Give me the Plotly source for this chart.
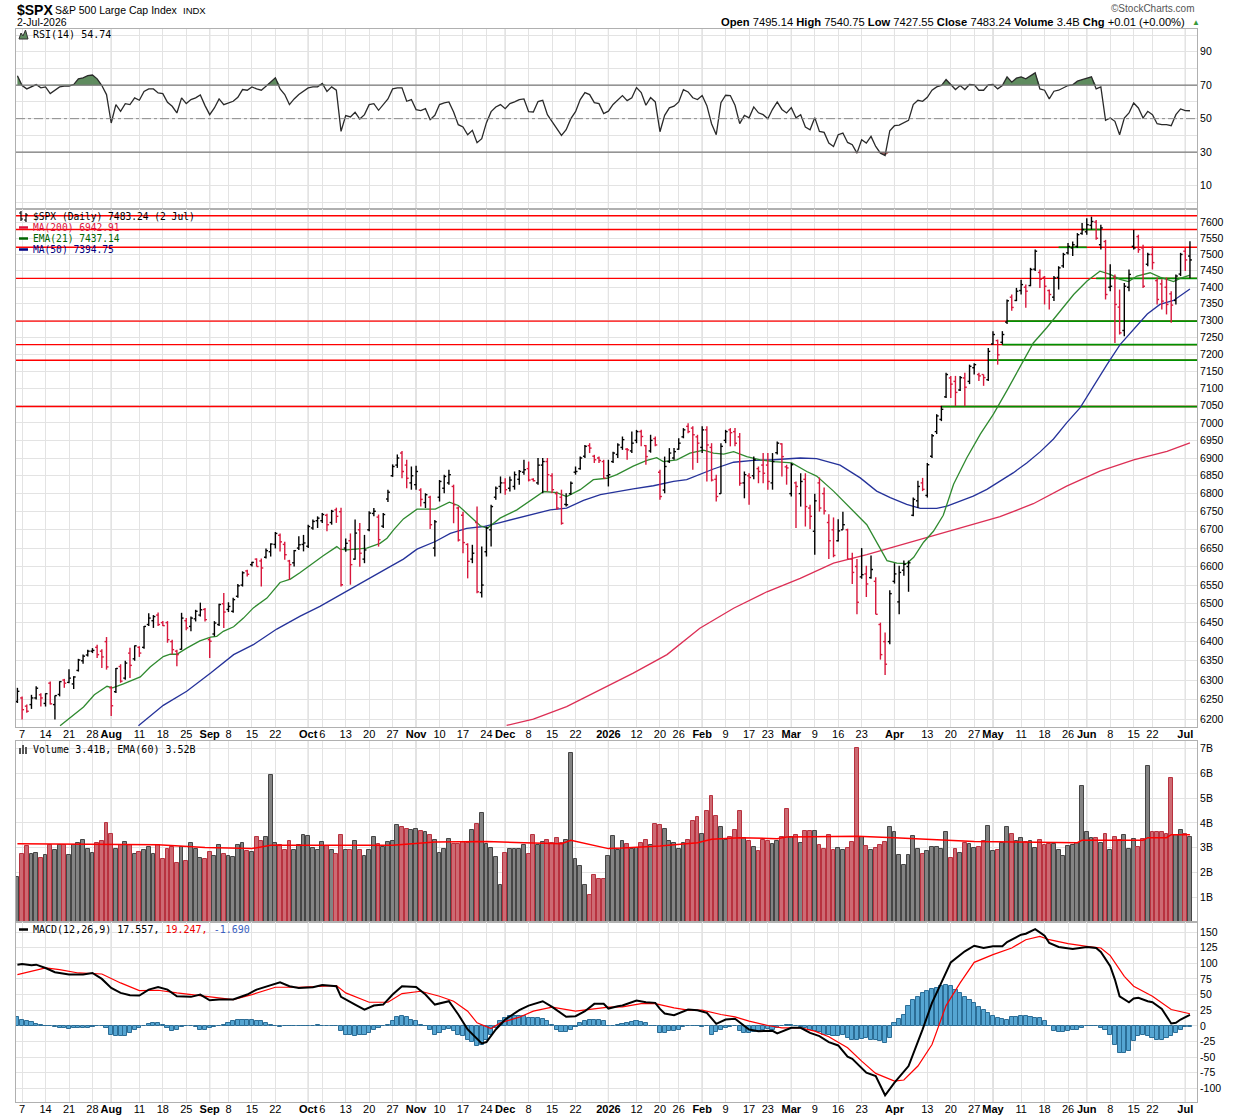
import numpy as np
import pandas as pd
import plotly.graph_objects as go

# ---------------- trading calendar ----------------
HOLIDAYS = ["2025-07-04", "2025-09-01", "2025-11-27", "2025-12-25", "2026-01-01",
            "2026-01-19", "2026-02-16", "2026-04-03", "2026-05-25", "2026-06-19"]
DAYS = pd.bdate_range("2025-07-03", "2026-07-02")
DAYS = DAYS[~DAYS.isin(pd.to_datetime(HOLIDAYS))]
DAY_POS = {d.strftime("%Y-%m-%d"): i for i, d in enumerate(DAYS)}

TICK_DATES = ["2025-07-07", "2025-07-14", "2025-07-21", "2025-07-28", "2025-08-01", "2025-08-11",
              "2025-08-18", "2025-08-25", "2025-09-02", "2025-09-08", "2025-09-15", "2025-09-22",
              "2025-10-01", "2025-10-06", "2025-10-13", "2025-10-20", "2025-10-27", "2025-11-03",
              "2025-11-10", "2025-11-17", "2025-11-24", "2025-12-01", "2025-12-08", "2025-12-15",
              "2025-12-22", "2026-01-02", "2026-01-12", "2026-01-20", "2026-01-26", "2026-02-02",
              "2026-02-09", "2026-02-17", "2026-02-23", "2026-03-02", "2026-03-09", "2026-03-16",
              "2026-03-23", "2026-04-01", "2026-04-13", "2026-04-20", "2026-04-27", "2026-05-01",
              "2026-05-11", "2026-05-18", "2026-05-26", "2026-06-01", "2026-06-08", "2026-06-15",
              "2026-06-22", "2026-07-01"]
TICK_TEXT = ["7", "14", "21", "28", "Aug", "11", "18", "25", "Sep", "8", "15", "22",
             "Oct", "6", "13", "20", "27", "Nov", "10", "17", "24", "Dec", "8", "15",
             "22", "2026", "12", "20", "26", "Feb", "9", "17", "23", "Mar", "9", "16",
             "23", "Apr", "13", "20", "27", "May", "11", "18", "26", "Jun", "8", "15",
             "22", "Jul"]
MONTH_LABELS = ["Aug", "Sep", "Oct", "Nov", "Dec", "2026", "Feb", "Mar", "Apr", "May", "Jun", "Jul"]

# ---------------- daily price bars ($SPX) ----------------
OPEN = [
    6245, 6254, 6233, 6237, 6254, 6262, 6240, 6292, 6237, 6263,
    6300, 6294, 6290, 6325, 6350, 6365, 6375, 6385, 6375, 6400,
    6280, 6270, 6335, 6305, 6370, 6355, 6385, 6385, 6445, 6455,
    6470, 6450, 6450, 6400, 6375, 6380, 6455, 6440, 6460, 6470,
    6485, 6405, 6420, 6445, 6500, 6485, 6480, 6520, 6550, 6588,
    6605, 6620, 6615, 6625, 6640, 6660, 6685, 6660, 6615, 6610,
    6650, 6660, 6655, 6705, 6725, 6725, 6740, 6720, 6755, 6750,
    6650, 6670, 6620, 6700, 6620, 6700, 6745, 6735, 6710, 6785,
    6850, 6880, 6914, 6880, 6830, 6825, 6810, 6775, 6790, 6650,
    6790, 6815, 6830, 6820, 6760, 6740, 6660, 6620, 6720, 6530,
    6640, 6700, 6790, 6820, 6830, 6815, 6820, 6840, 6860, 6870,
    6840, 6830, 6880, 6890, 6850, 6800, 6790, 6770, 6800, 6860,
    6870, 6905, 6935, 6905, 6900, 6890, 6850, 6890, 6910, 6930,
    6925, 6920, 6950, 6975, 6935, 6920, 6955, 6860, 6810, 6890,
    6900, 6925, 6960, 6990, 6985, 6960, 6930, 6980, 6930, 6840,
    6800, 6950, 6980, 6975, 6960, 6830, 6850, 6850, 6870, 6880,
    6880, 6830, 6915, 6940, 6875, 6800, 6830, 6800, 6840, 6760,
    6696, 6830, 6800, 6720, 6700, 6670, 6700, 6700, 6620, 6600,
    6572, 6580, 6570, 6560, 6445, 6400, 6400, 6560, 6505, 6590,
    6600, 6740, 6780, 6830, 6795, 6905, 6975, 7010, 7075, 7130,
    7120, 7095, 7130, 7120, 7160, 7140, 7140, 7125, 7230, 7240,
    7235, 7295, 7370, 7360, 7390, 7400, 7405, 7455, 7445, 7430,
    7390, 7370, 7430, 7465, 7505, 7520, 7525, 7565, 7570, 7590,
    7600, 7530, 7540, 7400, 7430, 7340, 7270, 7400, 7525, 7555,
    7520, 7470, 7500, 7420, 7410, 7400, 7380, 7360, 7440, 7510,
    7495.14]
HIGH = [
    6280, 6258, 6237, 6262, 6284, 6266, 6266, 6296, 6260, 6297,
    6303, 6328, 6310, 6355, 6366, 6379, 6383, 6392, 6380, 6412,
    6284, 6331, 6341, 6350, 6384, 6390, 6388, 6441, 6475, 6470,
    6477, 6454, 6454, 6405, 6379, 6476, 6462, 6466, 6484, 6503,
    6489, 6410, 6454, 6500, 6529, 6504, 6516, 6553, 6587, 6591,
    6613, 6622, 6622, 6649, 6663, 6694, 6690, 6667, 6618, 6645,
    6682, 6686, 6714, 6728, 6737, 6746, 6744, 6755, 6761, 6761,
    6676, 6690, 6728, 6719, 6686, 6751, 6760, 6742, 6746, 6811,
    6882, 6910, 6920, 6895, 6876, 6878, 6815, 6801, 6794, 6727,
    6838, 6853, 6867, 6825, 6764, 6750, 6663, 6659, 6764, 6654,
    6709, 6769, 6820, 6848, 6843, 6848, 6862, 6866, 6895, 6890,
    6843, 6900, 6900, 6900, 6857, 6806, 6811, 6801, 6834, 6876,
    6904, 6937, 6942, 6909, 6904, 6895, 6895, 6918, 6942, 6961,
    6928, 6975, 6980, 6980, 6937, 6966, 6961, 6867, 6904, 6928,
    6928, 6956, 6985, 6999, 6990, 6966, 6990, 6990, 6942, 6853,
    6942, 6980, 6985, 6985, 6971, 6862, 6857, 6904, 6876, 6914,
    6914, 6914, 6947, 6942, 6881, 6886, 6834, 6857, 6857, 6769,
    6800, 6845, 6817, 6743, 6734, 6729, 6750, 6703, 6637, 6620,
    6650, 6602, 6630, 6571, 6450, 6424, 6536, 6609, 6602, 6616,
    6616, 6789, 6836, 6844, 6886, 6968, 7025, 7049, 7145, 7136,
    7136, 7136, 7145, 7169, 7173, 7145, 7140, 7218, 7268, 7243,
    7268, 7363, 7378, 7398, 7423, 7408, 7459, 7515, 7454, 7434,
    7393, 7434, 7464, 7505, 7535, 7540, 7566, 7597, 7612, 7617,
    7607, 7592, 7545, 7470, 7439, 7393, 7413, 7454, 7576, 7561,
    7530, 7505, 7525, 7429, 7424, 7429, 7388, 7439, 7505, 7520,
    7540.75]
LOW = [
    6241, 6199, 6216, 6226, 6250, 6232, 6232, 6237, 6199, 6258,
    6280, 6292, 6277, 6322, 6342, 6361, 6370, 6357, 6331, 6327,
    6208, 6267, 6293, 6301, 6305, 6350, 6360, 6381, 6441, 6436,
    6441, 6441, 6397, 6366, 6336, 6379, 6430, 6427, 6453, 6466,
    6453, 6357, 6414, 6441, 6436, 6478, 6476, 6516, 6546, 6573,
    6600, 6600, 6546, 6622, 6627, 6649, 6641, 6618, 6564, 6600,
    6645, 6641, 6650, 6700, 6705, 6719, 6696, 6714, 6719, 6546,
    6640, 6551, 6618, 6599, 6609, 6696, 6737, 6654, 6705, 6777,
    6847, 6872, 6843, 6815, 6811, 6811, 6764, 6760, 6702, 6627,
    6778, 6801, 6825, 6718, 6668, 6636, 6568, 6609, 6528, 6517,
    6627, 6654, 6783, 6801, 6797, 6806, 6811, 6825, 6853, 6834,
    6834, 6825, 6801, 6806, 6801, 6755, 6714, 6764, 6797, 6853,
    6867, 6900, 6914, 6886, 6886, 6843, 6820, 6886, 6900, 6923,
    6895, 6914, 6942, 6933, 6881, 6915, 6933, 6783, 6801, 6886,
    6895, 6923, 6956, 6970, 6867, 6886, 6914, 6834, 6834, 6778,
    6800, 6942, 6933, 6933, 6822, 6787, 6769, 6840, 6829, 6829,
    6811, 6811, 6910, 6848, 6825, 6792, 6705, 6764, 6709, 6702,
    6632, 6750, 6742, 6620, 6625, 6668, 6700, 6620, 6553, 6472,
    6567, 6518, 6567, 6472, 6353, 6313, 6393, 6554, 6472, 6575,
    6532, 6737, 6760, 6807, 6789, 6900, 6968, 7005, 7072, 7072,
    7048, 7092, 7048, 7112, 7140, 7121, 7107, 7121, 7228, 7169,
    7228, 7289, 7329, 7358, 7378, 7338, 7403, 7449, 7398, 7348,
    7333, 7358, 7393, 7459, 7500, 7495, 7520, 7561, 7561, 7577,
    7545, 7515, 7363, 7388, 7233, 7258, 7253, 7388, 7515, 7505,
    7398, 7464, 7454, 7348, 7333, 7318, 7293, 7348, 7434, 7449,
    7427.55]
CLOSE = [
    6271, 6224, 6220, 6254, 6279, 6254, 6265, 6239, 6260, 6296,
    6292, 6305, 6308, 6352, 6362, 6375, 6377, 6366, 6360, 6334,
    6234, 6330, 6297, 6344, 6338, 6389, 6370, 6440, 6462, 6466,
    6445, 6442, 6405, 6379, 6366, 6462, 6436, 6462, 6480, 6484,
    6458, 6401, 6449, 6498, 6478, 6493, 6511, 6548, 6583, 6579,
    6611, 6600, 6596, 6643, 6661, 6690, 6667, 6632, 6605, 6643,
    6659, 6664, 6709, 6723, 6732, 6742, 6714, 6751, 6737, 6551,
    6663, 6605, 6691, 6636, 6645, 6746, 6751, 6673, 6742, 6804,
    6876, 6900, 6862, 6843, 6850, 6862, 6784, 6797, 6714, 6722,
    6834, 6848, 6853, 6769, 6672, 6665, 6614, 6636, 6532, 6550,
    6705, 6764, 6815, 6830, 6811, 6838, 6853, 6862, 6867, 6838,
    6836, 6880, 6890, 6853, 6811, 6760, 6718, 6769, 6829, 6862,
    6900, 6933, 6928, 6895, 6893, 6843, 6853, 6914, 6937, 6952,
    6923, 6942, 6975, 6961, 6904, 6950, 6937, 6792, 6876, 6914,
    6918, 6942, 6980, 6975, 6966, 6942, 6980, 6937, 6838, 6792,
    6933, 6975, 6972, 6942, 6829, 6853, 6845, 6895, 6862, 6857,
    6834, 6890, 6942, 6904, 6872, 6881, 6820, 6834, 6764, 6737,
    6780, 6760, 6752, 6670, 6630, 6697, 6714, 6620, 6584, 6504,
    6578, 6553, 6592, 6472, 6366, 6341, 6527, 6580, 6584, 6606,
    6610, 6784, 6820, 6812, 6881, 6963, 7020, 7039, 7140, 7112,
    7088, 7131, 7103, 7164, 7169, 7136, 7131, 7208, 7258, 7198,
    7258, 7359, 7339, 7388, 7408, 7388, 7454, 7510, 7424, 7403,
    7378, 7428, 7459, 7500, 7525, 7530, 7561, 7577, 7592, 7602,
    7550, 7582, 7378, 7403, 7348, 7263, 7403, 7439, 7520, 7515,
    7403, 7500, 7475, 7363, 7358, 7348, 7346, 7434, 7500, 7483.23,
    7483.24]

# ---------------- volume (billions) ----------------
VOLUME_B = [
    1.81, 2.76, 3.07, 2.76, 2.80, 2.59, 2.69, 3.09, 2.92, 3.12,
    3.09, 2.69, 3.12, 3.20, 3.32, 2.96, 2.80, 3.20, 3.28, 4.01,
    3.56, 2.96, 3.09, 3.23, 3.09, 2.76, 2.82, 2.89, 3.03, 2.76,
    3.12, 2.55, 2.93, 3.03, 2.39, 3.01, 2.47, 3.20, 2.93, 2.58,
    2.53, 2.82, 2.66, 3.12, 2.76, 2.66, 2.62, 3.12, 3.20, 2.88,
    2.82, 3.43, 3.28, 3.43, 5.92, 3.20, 3.09, 2.89, 3.28, 2.89,
    3.12, 3.50, 3.47, 3.00, 2.89, 3.23, 3.05, 2.89, 2.73, 3.50,
    2.89, 2.92, 3.28, 2.92, 2.66, 2.92, 3.43, 3.16, 3.03, 3.23,
    3.25, 3.93, 3.83, 3.74, 3.73, 3.77, 3.66, 3.63, 3.52, 3.30,
    2.80, 2.93, 3.36, 3.13, 3.16, 3.23, 3.19, 3.70, 3.97, 4.41,
    3.16, 3.00, 2.62, 1.48, 2.80, 2.96, 2.96, 2.96, 3.12, 2.76,
    3.50, 3.12, 3.23, 3.30, 3.19, 3.40, 3.20, 3.30, 6.80, 2.55,
    2.24, 1.48, 1.07, 1.91, 1.72, 1.72, 2.66, 3.46, 2.89, 3.25,
    3.16, 2.93, 2.98, 3.20, 3.32, 3.12, 3.97, 3.90, 3.77, 3.28,
    3.20, 2.96, 3.20, 3.32, 4.09, 4.25, 3.56, 4.49, 5.10, 4.29,
    3.85, 3.32, 3.44, 3.73, 4.49, 3.37, 3.28, 3.04, 2.87, 3.32,
    3.25, 3.16, 3.28, 3.44, 4.57, 3.44, 3.50, 3.20, 3.69, 3.69,
    3.69, 3.12, 2.96, 3.50, 2.92, 3.00, 2.92, 3.00, 3.24, 7.00,
    3.43, 3.08, 2.92, 3.00, 3.12, 3.24, 3.85, 3.65, 2.72, 2.31,
    2.72, 3.48, 2.96, 2.76, 2.87, 3.04, 3.04, 2.96, 3.61, 2.59,
    2.96, 2.80, 3.20, 3.16, 3.00, 3.04, 3.28, 3.89, 2.87, 2.92,
    3.20, 3.85, 3.56, 3.28, 3.40, 3.23, 3.28, 3.00, 3.32, 3.12,
    3.16, 3.16, 2.92, 2.67, 3.08, 3.12, 3.20, 5.47, 3.65, 3.40,
    3.40, 3.20, 3.56, 2.92, 3.44, 3.32, 3.52, 2.96, 3.36, 3.01,
    3.36, 6.31, 3.65, 3.61, 3.61, 3.56, 5.79, 3.52, 3.73, 3.56,
    3.41]
VOL_EMA_DAY = [0, 30, 40, 50, 54, 80, 89, 100, 108, 116, 118, 126, 129, 137, 145, 148, 154,
               162, 164, 179, 187, 196, 204, 213, 221, 226, 227, 240, 241, 245, 246, 250]
VOL_EMA_VAL = [3.16, 3.12, 3.00, 2.96, 3.10, 3.10, 3.23, 3.25, 3.20, 3.16, 3.30, 2.96, 2.98,
               3.07, 3.20, 3.34, 3.40, 3.36, 3.43, 3.46, 3.40, 3.32, 3.25, 3.23, 3.23, 3.20,
               3.30, 3.30, 3.40, 3.40, 3.52, 3.52]

# ---------------- RSI(14) ----------------
RSI14 = [
    75.7, 69.8, 67.8, 69.0, 70.4, 68.4, 69.0, 65.0, 67.0, 69.0,
    69.4, 69.4, 70.4, 73.8, 74.4, 75.7, 76.1, 73.8, 69.8, 64.4,
    47.4, 58.4, 54.4, 59.0, 58.4, 62.4, 61.0, 66.3, 67.8, 67.8,
    65.4, 65.0, 59.8, 57.4, 53.4, 62.4, 59.0, 61.4, 62.4, 64.2,
    57.8, 52.4, 56.4, 61.8, 58.4, 59.4, 60.4, 62.8, 67.4, 67.0,
    69.0, 67.8, 67.0, 69.4, 71.7, 74.4, 67.8, 64.4, 58.4, 61.8,
    64.4, 66.3, 68.4, 69.0, 69.0, 71.0, 66.3, 69.0, 67.0, 42.4,
    51.8, 51.0, 53.8, 49.8, 52.4, 58.4, 59.0, 55.0, 58.4, 61.8,
    67.8, 68.4, 68.4, 60.4, 61.4, 55.4, 54.8, 56.0, 49.4, 52.0,
    58.4, 59.5, 60.0, 54.0, 46.4, 45.0, 40.4, 43.0, 35.6, 38.0,
    47.6, 54.2, 57.0, 58.4, 56.0, 59.0, 60.0, 61.4, 61.8, 54.2,
    54.0, 60.2, 61.0, 52.4, 48.2, 44.0, 40.0, 43.4, 50.0, 54.2,
    61.4, 65.6, 64.4, 59.6, 59.0, 53.0, 54.5, 58.5, 61.4, 63.8,
    60.8, 62.5, 68.6, 65.6, 58.0, 62.6, 60.0, 42.2, 52.0, 56.5,
    57.5, 60.0, 67.4, 66.0, 62.5, 61.4, 63.8, 57.8, 47.0, 40.4,
    59.6, 64.0, 63.8, 58.0, 47.0, 52.0, 50.5, 57.0, 53.5, 52.4,
    50.0, 55.6, 60.0, 55.5, 53.4, 56.6, 50.5, 52.4, 45.0, 43.4,
    50.6, 42.4, 41.8, 35.4, 33.4, 40.4, 41.4, 35.8, 34.4, 29.4,
    37.4, 35.4, 39.4, 33.4, 29.4, 28.0, 42.8, 45.8, 46.2, 47.8,
    49.0, 58.4, 61.0, 60.4, 62.8, 67.0, 69.0, 69.8, 73.4, 70.4,
    67.4, 69.8, 67.4, 70.4, 70.2, 67.0, 67.0, 70.2, 70.4, 67.8,
    69.8, 75.0, 71.8, 74.2, 75.0, 73.8, 75.4, 77.4, 67.8, 67.0,
    61.8, 66.4, 67.0, 68.4, 69.8, 70.2, 72.4, 73.4, 74.2, 75.0,
    67.8, 69.0, 49.0, 50.4, 48.4, 40.4, 50.4, 53.4, 59.4, 56.4,
    50.4, 54.4, 52.4, 47.0, 46.4, 46.4, 45.8, 52.4, 55.8, 54.8,
    54.74]

# ---------------- MACD(12,26,9) ----------------
MACD_HIST = [
    14.4, 10, 7.4, 5.8, 3.7, 2, 0, -0.5, -2, -3,
    -4, -5, -4, -3, -3, -3, -2, 0, -1, -3,
    -14, -16, -17, -16, -11, -6, -3, 0, 3, 5,
    4, 2, -3, -8, -6, -2, -1, 0, -2, -6,
    -7, -3, -2, 0, 2, 5, 7, 10, 10, 9,
    10, 8, 7, 5, 2, 0, -2, 0, -1, 0,
    -1, 0, -0.5, 0, 1, 0.5, -0.5, 0, -1, -8,
    -14, -15, -16, -15, -14, -11, -6, -3, 0, 2,
    7, 14, 16, 14, 10, 7, 2, 0, -6, -14,
    -11, -6, -5, -8, -14, -17, -22, -26, -32, -31,
    -23, -14, -3, 7, 13, 15, 16, 16, 15, 13,
    13, 13, 11, 7, 2, -6, -10, -10, -7, -2,
    4, 7, 9, 10, 9, 7, 0, 0, 2, 3,
    5, 6, 7, 6, 5, 0, 0, -11, -11, -9,
    -8, -6, -2, 0, 0, 0, -2, 0, -14, -10,
    -6, -3, -2, 0, -8, -12, -12, -10, -8, -7,
    -5, -6, -3, 0, 2, 2, 0, -2, -3, -6,
    -8, -10, -14, -15, -17, -16, -15, -19, -22, -23,
    -21, -19, -22, -23, -24, -28, -19, 5, 11, 18,
    32, 41, 46, 52, 55, 59, 61, 64, 65, 64,
    58, 52, 46, 42, 37, 30, 25, 21, 16, 12,
    11, 10, 14, 14, 15, 15, 14, 13, 13, 7,
    0, -8, -10, -10, -9, -7, -6, -3, 0, 0,
    0, -3, -6, -14, -30, -43, -44, -40, -25, -17,
    -14, -17, -19, -22, -23, -20, -17, -11, -6, -2,
    -1.69]
MACD_DAY = [0, 1, 3, 4, 6, 8, 11, 14, 16, 18, 20, 22, 24, 26, 28, 30, 32, 34, 37, 39, 41, 43,
            46, 49, 51, 54, 56, 58, 60, 63, 65, 68, 69, 72, 74, 76, 78, 80, 82, 85, 87, 89, 92,
            94, 96, 99, 100, 102, 104, 107, 109, 112, 114, 117, 119, 121, 123, 125, 126, 128,
            129, 132, 134, 136, 137, 138, 140, 143, 145, 147, 149, 151, 153, 156, 158, 161, 162,
            165, 167, 169, 171, 173, 175, 177, 178, 181, 183, 185, 187, 190, 193, 195, 199, 202,
            204, 206, 208, 210, 211, 214, 215, 217, 219, 220, 222, 225, 228, 230, 231, 233, 234,
            235, 237, 238, 239, 241, 242, 244, 245, 246, 247, 248, 250]
MACD_VAL = [97.8, 98.9, 96.8, 97.8, 92.5, 85.6, 81.9, 81.9, 84.5, 75.0, 60.6, 52.6, 48.9, 48.4,
            57.9, 62.2, 57.9, 47.3, 46.3, 50.0, 40.9, 42.0, 42.0, 50.0, 57.9, 64.3, 69.6, 63.3,
            60.6, 61.7, 65.4, 63.3, 46.3, 34.0, 26.0, 32.4, 34.0, 50.0, 63.3, 62.2, 50.0, 34.0,
            39.3, 18.1, -5.8, -28.2, -26.0, -5.8, 10.1, 25.0, 32.4, 39.3, 30.3, 14.4, 15.4, 23.4,
            35.1, 35.1, 27.6, 31.4, 32.4, 40.4, 37.7, 36.7, 27.1, 19.7, 17.0, 26.0, 25.0, 20.7,
            3.2, 10.1, 11.2, -5.8, -8.5, -8.0, -12.2, -3.2, -3.2, -11.2, -16.5, -26.0, -31.4,
            -49.4, -52.6, -75.0, -80.3, -111.1, -90.9, -64.3, -5.8, 36.7, 101.5, 119.1, 128.1,
            124.4, 127.1, 127.1, 134.0, 145.7, 147.3, 154.7, 144.1, 132.4, 126.0, 122.8, 126.0,
            124.4, 118.0, 95.2, 73.9, 47.3, 37.7, 43.6, 44.7, 39.3, 37.7, 27.1, 15.4, 3.7, 4.8,
            10.1, 17.557]
SIGNAL_DAY = [0, 3, 6, 9, 13, 18, 22, 26, 30, 34, 38, 43, 46, 50, 55, 60, 64, 68, 70, 75, 79,
              82, 86, 90, 93, 96, 98, 101, 103, 107, 110, 114, 119, 123, 126, 129, 133, 136, 140,
              143, 146, 150, 153, 156, 160, 163, 167, 170, 173, 177, 180, 183, 187, 189, 192, 195,
              198, 201, 204, 208, 212, 215, 218, 220, 224, 228, 231, 233, 236, 238, 242, 246, 250]
SIGNAL_VAL = [81.9, 87.2, 92.5, 89.8, 84.5, 82.9, 68.6, 56.4, 56.9, 52.6, 48.9, 44.7, 42.0, 50.0,
              61.7, 61.7, 63.3, 64.3, 52.6, 37.7, 37.7, 51.6, 55.3, 47.3, 39.3, 23.4, 4.8, -4.3,
              4.8, 13.8, 23.4, 29.8, 23.4, 27.1, 29.8, 30.3, 35.6, 35.6, 28.7, 25.0, 25.0, 18.1,
              14.4, 7.4, 0.5, -3.2, -3.2, -8.5, -17.5, -35.1, -56.4, -76.0, -88.3, -86.7, -64.3,
              -29.8, 32.4, 68.6, 101.5, 113.8, 124.4, 137.7, 143.0, 137.7, 131.3, 127.1, 124.4,
              112.2, 79.2, 63.3, 47.3, 26.0, 19.247]

# ---------------- moving averages ----------------
EMA21_DAY = [9.1, 11.2, 14.1, 16.4, 19.1, 20.3, 22.6, 26.2, 28.3, 31.1, 32.6, 34.0, 36.1, 38.9,
             41.2, 42.5, 43.9, 46.1, 48.2, 50.3, 53.2, 56.0, 58.2, 60.3, 62.4, 65.2, 68.1, 68.8,
             70.2, 73.1, 74.5, 77.3, 78.8, 80.2, 82.3, 85.2, 89.1, 92.1, 94.0, 96.2, 98.7, 100.2,
             102.9, 106.5, 110.0, 112.2, 115.0, 117.1, 120.0, 122.8, 125.7, 127.8, 131.3, 134.2,
             136.3, 137.7, 140.6, 143.4, 146.3, 148.4, 150.6, 152.7, 155.5, 158.4, 161.2, 165.1,
             168.3, 170.4, 174.0, 177.5, 181.1, 184.0, 185.4, 187.5, 189.6, 191.1, 193.2, 195.3,
             197.4, 199.6, 202.4, 205.3, 208.1, 211.0, 213.8, 216.6, 219.5, 222.3, 225.2, 228.0,
             230.8, 233.0, 235.1, 236.9, 238.7, 241.5, 243.6, 246.5, 247.9, 250.0]
EMA21_VAL = [6183, 6203, 6231, 6262, 6284, 6280, 6290, 6308, 6334, 6361, 6367, 6367, 6383, 6402,
             6412, 6414, 6427, 6439, 6462, 6489, 6515, 6557, 6566, 6584, 6604, 6629, 6654, 6647,
             6645, 6647, 6650, 6663, 6677, 6700, 6730, 6757, 6757, 6776, 6767, 6741, 6711, 6704,
             6732, 6755, 6786, 6806, 6803, 6792, 6811, 6839, 6843, 6853, 6877, 6893, 6901, 6890,
             6895, 6914, 6922, 6914, 6911, 6918, 6904, 6895, 6890, 6886, 6862, 6849, 6807, 6760,
             6714, 6648, 6616, 6609, 6608, 6625, 6666, 6696, 6740, 6826, 6900, 6968, 7025, 7094,
             7164, 7233, 7279, 7329, 7378, 7418, 7449, 7439, 7424, 7417, 7434, 7444, 7431, 7417,
             7427, 7437.14]
MA50_DAY = [25.8, 31.1, 36.1, 41.2, 46.1, 50.3, 55.3, 60.3, 64.5, 68.8, 74.5, 78.8, 82.3, 85.2,
            89.1, 92.3, 95.8, 99.4, 102.9, 106.5, 110.0, 113.6, 117.1, 120.7, 124.3, 127.8, 131.3,
            135.6, 139.9, 142.7, 145.5, 148.4, 152.7, 156.9, 161.2, 166.9, 170.4, 175.4, 179.7,
            183.2, 186.1, 189.6, 192.5, 196.0, 198.2, 201.0, 203.8, 206.7, 209.5, 212.3, 215.2,
            218.1, 220.9, 223.7, 226.6, 229.4, 232.3, 235.1, 238.0, 240.9, 243.6, 246.5, 250.0]
MA50_VAL = [6183, 6235, 6271, 6318, 6366, 6392, 6433, 6467, 6493, 6524, 6564, 6595, 6620, 6647,
            6668, 6690, 6704, 6709, 6720, 6732, 6744, 6755, 6760, 6781, 6797, 6806, 6813, 6822,
            6834, 6839, 6853, 6869, 6888, 6893, 6895, 6900, 6898, 6880, 6844, 6807, 6789, 6770,
            6759, 6759, 6765, 6779, 6793, 6812, 6835, 6858, 6886, 6918, 6954, 7000, 7044, 7106,
            7169, 7228, 7274, 7319, 7348, 7360, 7394.75]
MA200_DAY = [104.3, 110.0, 117.1, 124.3, 131.3, 138.5, 145.5, 152.7, 159.8, 166.9, 174.0, 181.1,
             188.2, 195.3, 202.4, 209.5, 216.6, 223.7, 230.8, 238.0, 245.1, 250.0]
MA200_VAL = [6184, 6200, 6232, 6275, 6318, 6366, 6435, 6488, 6532, 6568, 6609, 6632, 6658, 6682,
             6710, 6736, 6772, 6821, 6863, 6895, 6919, 6942.91]

# ---------------- user-drawn level lines ----------------
RED_LEVELS = [7620, 7577, 7522, 7427, 7298, 7228, 7182, 7047]
GREEN_LEVELS = [7577, 7522, 7427, 7298, 7228, 7182, 7047]
GREEN_FROM = ["2026-05-29", "2026-05-21", "2026-06-03", "2026-05-06", "2026-05-05",
              "2026-04-30", "2026-04-16"]
GREEN_TO = ["2026-06-04", "2026-06-01", None, None, None, None, None]

# ---------------- styling / geometry ----------------
W, H = 1240, 1119
PL, PR, PT, PB = 16, 1197, 29, 1102
PW, PH = PR - PL, PB - PT
XR = [-0.3, 251.5]
GRID = "#e3e3e3"
MONTH_GRID = "#bdbdbd"
BORDER = "#b0b0b0"
UP_C = "#000000"
DN_C = "#d8173c"
FONT = "Liberation Sans, Arial, sans-serif"
MONO = "DejaVu Sans Mono, monospace"


def dom(top, bottom):
    return [(PB - bottom) / PH, (PB - top) / PH]


def P(x, y):
    return (x - PL) / PW, (PB - y) / PH


n = len(DAYS)
idx = np.arange(n)
op, hi, lo, cl = (np.array(a, float) for a in (OPEN, HIGH, LOW, CLOSE))
prev = np.concatenate([[op[0]], cl[:-1]])
is_up = cl >= prev

fig = go.Figure()

# ---- RSI panel ----
rsi = np.array(RSI14, float)
fig.add_trace(go.Scatter(x=idx, y=np.full(n, 70.0), mode="lines", line=dict(width=0),
                         xaxis="x", yaxis="y", hoverinfo="skip"))
fig.add_trace(go.Scatter(x=idx, y=np.maximum(rsi, 70), mode="lines", line=dict(width=0),
                         fill="tonexty", fillcolor="#5f8c5f", xaxis="x", yaxis="y", hoverinfo="skip"))
fig.add_trace(go.Scatter(x=idx, y=np.full(n, 30.0), mode="lines", line=dict(width=0),
                         xaxis="x", yaxis="y", hoverinfo="skip"))
fig.add_trace(go.Scatter(x=idx, y=np.minimum(rsi, 30), mode="lines", line=dict(width=0),
                         fill="tonexty", fillcolor="#a3605f", xaxis="x", yaxis="y", hoverinfo="skip"))
fig.add_trace(go.Scatter(x=idx, y=rsi, mode="lines", line=dict(color="#2a2a2a", width=1.3),
                         xaxis="x", yaxis="y", hoverinfo="skip"))

# ---- price panel: level lines ----
for lv in RED_LEVELS:
    fig.add_trace(go.Scatter(x=XR, y=[lv, lv], mode="lines", line=dict(color="#ff0000", width=1.4),
                             xaxis="x2", yaxis="y2", hoverinfo="skip"))
for lv, d0, d1 in zip(GREEN_LEVELS, GREEN_FROM, GREEN_TO):
    x0 = DAY_POS[d0]
    x1 = DAY_POS[d1] if d1 else XR[1]
    fig.add_trace(go.Scatter(x=[x0, x1], y=[lv, lv], mode="lines", line=dict(color="#009000", width=1.7),
                             xaxis="x2", yaxis="y2", hoverinfo="skip"))

# moving averages
fig.add_trace(go.Scatter(x=MA200_DAY, y=MA200_VAL, mode="lines", line=dict(color="#dc2f55", width=1.3),
                         xaxis="x2", yaxis="y2", hoverinfo="skip"))
fig.add_trace(go.Scatter(x=MA50_DAY, y=MA50_VAL, mode="lines", line=dict(color="#25329a", width=1.3),
                         xaxis="x2", yaxis="y2", hoverinfo="skip"))
fig.add_trace(go.Scatter(x=EMA21_DAY, y=EMA21_VAL, mode="lines", line=dict(color="#2f8a2f", width=1.3),
                         xaxis="x2", yaxis="y2", hoverinfo="skip"))

# OHLC bars (colour by close vs previous close)
TW = 0.42


def bar_path(mask):
    xs, ys = [], []
    for i in idx[mask]:
        xs += [i, i, None, i - TW, i, None, i, i + TW, None]
        ys += [lo[i], hi[i], None, op[i], op[i], None, cl[i], cl[i], None]
    return xs, ys


for mask, col in ((is_up, UP_C), (~is_up, DN_C)):
    xs, ys = bar_path(mask)
    fig.add_trace(go.Scatter(x=xs, y=ys, mode="lines", line=dict(color=col, width=1.4),
                             xaxis="x2", yaxis="y2", hoverinfo="skip", connectgaps=False))

# ---- volume panel ----
vol_fill = np.where(is_up, "#838383", "#cd6a73")
vol_line = np.where(is_up, "#454545", "#b8323f")
fig.add_trace(go.Bar(x=idx, y=VOLUME_B, width=0.82,
                     marker=dict(color=list(vol_fill), line=dict(color=list(vol_line), width=1)),
                     xaxis="x3", yaxis="y3", hoverinfo="skip"))
fig.add_trace(go.Scatter(x=VOL_EMA_DAY, y=VOL_EMA_VAL, mode="lines", line=dict(color="#ff0000", width=1.5),
                         xaxis="x3", yaxis="y3", hoverinfo="skip"))

# ---- MACD panel ----
fig.add_trace(go.Bar(x=idx, y=MACD_HIST, width=0.88,
                     marker=dict(color="#55a5d2", line=dict(color="#2b6d96", width=1)),
                     xaxis="x4", yaxis="y4", hoverinfo="skip"))
fig.add_trace(go.Scatter(x=SIGNAL_DAY, y=SIGNAL_VAL, mode="lines", line=dict(color="#ff0000", width=1.2),
                         xaxis="x4", yaxis="y4", hoverinfo="skip"))
fig.add_trace(go.Scatter(x=MACD_DAY, y=MACD_VAL, mode="lines", line=dict(color="#000000", width=2),
                         xaxis="x4", yaxis="y4", hoverinfo="skip"))

# ---------------- axes ----------------
tickpos = [DAY_POS[d] for d in TICK_DATES]
ticktxt = ["<b>%s</b>" % t if t in MONTH_LABELS else t for t in TICK_TEXT]


def xax(anchor, show):
    return dict(range=XR, domain=[0, 1], anchor=anchor, tickmode="array", tickvals=tickpos,
                ticktext=ticktxt, showticklabels=show, tickangle=0, automargin=False,
                ticklabelstandoff=-3,
                showgrid=True, gridcolor=GRID, gridwidth=1,
                zeroline=False, showline=True, mirror=True, linecolor=BORDER, linewidth=1,
                ticks="", tickfont=dict(family=FONT, size=11, color="#000"), fixedrange=True)


def yax(anchor, domain, **kw):
    d = dict(domain=domain, anchor=anchor, side="right", showgrid=True, gridcolor=GRID,
             gridwidth=1, zeroline=False, showline=True, mirror=True, linecolor=BORDER,
             linewidth=1, ticks="", automargin=False, tickangle=0,
             tickfont=dict(family=FONT, size=10.5, color="#000"), fixedrange=True)
    d.update(kw)
    return d


rsi_ticks = list(range(0, 101, 10))
layout = dict(
    width=W, height=H, autosize=False,
    margin=dict(l=PL, r=W - PR, t=PT, b=H - PB, pad=0, autoexpand=False),
    paper_bgcolor="white", plot_bgcolor="white", showlegend=False,
    font=dict(family=FONT, size=11, color="#000"),
    bargap=0,
    xaxis=xax("y", False), xaxis2=xax("y2", True), xaxis3=xax("y3", False), xaxis4=xax("y4", True),
    yaxis=yax("x", dom(29, 209), range=[-4, 103.6], tickmode="array", tickvals=rsi_ticks,
              ticktext=[str(v) if v in (10, 30, 50, 70, 90) else "" for v in rsi_ticks]),
    yaxis2=yax("x2", dom(209, 727), type="log", range=[np.log10(6180), np.log10(7641)],
               tickmode="array", tickvals=list(range(6200, 7601, 50)),
               ticktext=[str(v) for v in range(6200, 7601, 50)]),
    yaxis3=yax("x3", dom(741, 922), range=[0, 7.3], tickmode="array", tickvals=[1, 2, 3, 4, 5, 6, 7],
               ticktext=["%dB" % v for v in range(1, 8)]),
    yaxis4=yax("x4", dom(922, 1102), range=[-121.8, 166], tickmode="array",
               tickvals=list(range(-100, 151, 25)), ticktext=[str(v) for v in range(-100, 151, 25)]),
)

# ---------------- shapes ----------------
shapes = []
for t, p in zip(TICK_TEXT, tickpos):
    if t in MONTH_LABELS:
        for xr, yr in (("x", "y domain"), ("x2", "y2 domain"), ("x3", "y3 domain"), ("x4", "y4 domain")):
            shapes.append(dict(type="line", xref=xr, yref=yr, x0=p, x1=p, y0=0, y1=1, layer="below",
                               line=dict(color=MONTH_GRID, width=1)))
for lv in (70, 30):
    shapes.append(dict(type="line", xref="x domain", yref="y", x0=0, x1=1, y0=lv, y1=lv,
                       line=dict(color="#7a7a7a", width=1.2)))
shapes.append(dict(type="line", xref="x domain", yref="y", x0=0, x1=1, y0=50, y1=50,
                   line=dict(color="#8a8a8a", width=1, dash="dashdot")))


def seg(x0, y0, x1, y1, color, width):
    a, b = P(x0, y0)
    c, d = P(x1, y1)
    return dict(type="line", xref="paper", yref="paper", x0=a, y0=b, x1=c, y1=d,
                line=dict(color=color, width=width))


for y, c in ((227.5, "#dc143c"), (238.5, "#006400"), (249.5, "#000080")):
    shapes.append(seg(19, y, 28, y, c, 2.5))
shapes.append(seg(19, 929.5, 28, 929.5, "#000", 2.5))
for xc, yt, yb, yo, yc in ((21, 211, 221, 213, 219), (26, 213, 222, 220, 215)):
    shapes.append(seg(xc, yt, xc, yb, "#000", 1.2))
    shapes.append(seg(xc - 2, yo, xc, yo, "#000", 1.2))
    shapes.append(seg(xc, yc, xc + 2, yc, "#000", 1.2))
for xc, yt in ((20, 748), (23, 745), (26, 747)):
    shapes.append(seg(xc, yt, xc, 754, "#555", 2))
pts = [(19, 39), (21, 33), (23, 36), (25.5, 30), (28, 39)]
path = "M " + " L ".join("%f,%f" % P(x, y) for x, y in pts) + " Z"
shapes.append(dict(type="path", xref="paper", yref="paper", path=path, fillcolor="#5f8c5f",
                   line=dict(color="#333", width=1)))
layout["shapes"] = shapes

# ---------------- text ----------------
ann = []


def text(s, x, y, size, color="#000", xanchor="left", family=FONT):
    px, py = P(x, y)
    ann.append(dict(text=s, x=px, y=py, xref="paper", yref="paper", xanchor=xanchor, yanchor="middle",
                    showarrow=False, font=dict(family=family, size=size, color=color)))


text("<b>$SPX</b>", 15, 10, 14)
text("S&P 500 Large Cap Index", 53, 10, 10.5)
text("INDX", 181, 10.5, 9.5)
text("2-Jul-2026", 15, 22, 10.5)
text("©StockCharts.com", 1197, 9, 10, color="#555", xanchor="right")
text("<b>Open</b> 7495.14 <b>High</b> 7540.75 <b>Low</b> 7427.55 <b>Close</b> 7483.24 "
     "<b>Volume</b> 3.4B <b>Chg</b> +0.01 (+0.00%)", 1187, 22, 11.2, xanchor="right")
text("▲", 1190, 22.5, 8, color="#3a9a3a")

text("RSI(14) 54.74", 31, 35, 10, family=MONO)
text("$SPX (Daily) 7483.24 (2 Jul)", 31, 216.5, 9.6, family=MONO)
text("MA(200) 6942.91", 31, 227.5, 9.6, color="#dc143c", family=MONO)
text("EMA(21) 7437.14", 31, 238.5, 9.6, color="#006400", family=MONO)
text("MA(50) 7394.75", 31, 249.5, 9.6, color="#000080", family=MONO)
text("Volume 3.41B, EMA(60) 3.52B", 31, 750, 10, family=MONO)
text('MACD(12,26,9) 17.557, <span style="color:#ee0000">19.247,</span> '
     '<span style="color:#3a5fbf">-1.690</span>', 31, 929.5, 10, family=MONO)
layout["annotations"] = ann

fig.update_layout(**layout)
fig.write_html("out.html", config={"displayModeBar": False},
               post_script="document.body.style.margin='0';document.body.style.overflow='hidden';")
